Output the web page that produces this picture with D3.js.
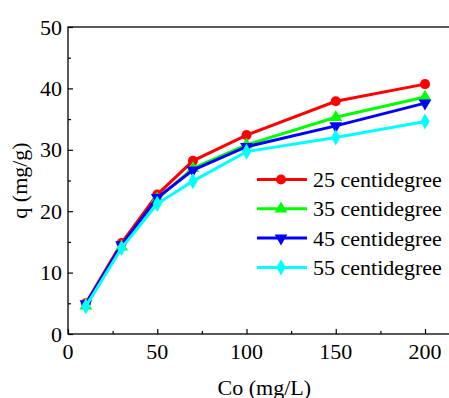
<!DOCTYPE html>
<html>
<head>
<meta charset="utf-8">
<script src="https://cdn.jsdelivr.net/npm/d3@7"></script>
<style>
  html, body { margin: 0; padding: 0; background: #fff; overflow: hidden; }
  svg text { font-family: 'Liberation Serif', 'DejaVu Serif', serif; fill: #000; }
</style>
</head>
<body>
<div id="chart"></div>
<script>
// data
const concentrations = [10, 30, 50, 70, 100, 150, 200];
const seriesNames = ['25 centidegree', '35 centidegree', '45 centidegree', '55 centidegree'];
const q25 = [5.0, 14.8, 22.7, 28.2, 32.4, 37.9, 40.7];
const q35 = [4.6, 14.2, 22.0, 27.0, 30.8, 35.3, 38.6];
const q45 = [4.9, 14.5, 22.2, 26.7, 30.5, 33.9, 37.6];
const q55 = [4.5, 14.0, 21.2, 24.9, 29.7, 32.0, 34.6];
const colors = ['#ff0000', '#00ff00', '#0000ff', '#00ffff'];
const markerShapes = ['circle', 'triangleUp', 'triangleDown', 'diamond'];
const xTicks = [0, 50, 100, 150, 200];
const yTicks = [0, 10, 20, 30, 40, 50];

const width = 449;
const height = 398;
const margins = { top: 27, left: 68 };
const plotBottom = 334;
const fontFamily = "'Liberation Serif', 'DejaVu Serif', serif";

const svg = d3.select('#chart')
  .append('svg')
  .attr('width', width)
  .attr('height', height)
  .attr('font-family', fontFamily);

const x = d3.scaleLinear().domain([0, 220]).range([margins.left, margins.left + 220 * 1.785]);
const y = d3.scaleLinear().domain([0, 50]).range([plotBottom, margins.top]);

const series = [q25, q35, q45, q55].map((values, i) => ({
  name: seriesNames[i],
  color: colors[i],
  shape: markerShapes[i],
  points: values.map((v, j) => ({ c: concentrations[j], q: v })),
}));

// frame
svg.append('rect')
  .attr('x', x(0))
  .attr('y', y(50))
  .attr('width', x(220) - x(0))
  .attr('height', y(0) - y(50))
  .attr('fill', 'none')
  .attr('stroke', '#000')
  .attr('stroke-width', 1.3);

// axes, ticks pointing inward
const xAxis = svg.append('g')
  .attr('transform', `translate(0,${plotBottom})`)
  .call(d3.axisTop(x).tickValues(xTicks).tickSize(5).tickFormat(''));
const xMinor = svg.append('g')
  .attr('transform', `translate(0,${plotBottom})`)
  .call(d3.axisTop(x).tickValues([25, 75, 125, 175]).tickSize(3).tickFormat(''));
const yAxis = svg.append('g')
  .attr('transform', `translate(${margins.left},0)`)
  .call(d3.axisRight(y).tickValues(yTicks).tickSize(5).tickFormat(''));
const yMinor = svg.append('g')
  .attr('transform', `translate(${margins.left},0)`)
  .call(d3.axisRight(y).tickValues([5, 15, 25, 35, 45]).tickSize(3).tickFormat(''));
[xAxis, xMinor, yAxis, yMinor].forEach(g => {
  g.select('.domain').remove();
  g.selectAll('line').attr('stroke', '#000').attr('stroke-width', 1.2);
});

// tick labels
svg.append('g').selectAll('text')
  .data(xTicks)
  .join('text')
  .attr('x', d => x(d))
  .attr('y', 359)
  .attr('text-anchor', 'middle')
  .attr('font-size', 22)
  .text(d => d);

svg.append('g').selectAll('text')
  .data(yTicks)
  .join('text')
  .attr('x', 62)
  .attr('y', d => y(d) + 7.5)
  .attr('text-anchor', 'end')
  .attr('font-size', 22)
  .text(d => d);

// axis titles
svg.append('text')
  .attr('x', x(110))
  .attr('y', 395)
  .attr('text-anchor', 'middle')
  .attr('font-size', 22)
  .text('Co (mg/L)');

svg.append('text')
  .attr('transform', `translate(27,${(y(0) + y(50)) / 2}) rotate(-90)`)
  .attr('text-anchor', 'middle')
  .attr('font-size', 22)
  .text('q (mg/g)');

const symbolFor = shape => {
  if (shape === 'circle') return d3.symbol(d3.symbolCircle, 80)();
  if (shape === 'triangleUp') return d3.symbol(d3.symbolTriangle, 70)();
  if (shape === 'triangleDown') return d3.symbol(d3.symbolTriangle, 70)();
  return d3.symbol(d3.symbolDiamond, 75)();
};
const rotationFor = shape => (shape === 'triangleDown' ? 180 : 0);

const line = d3.line().x(d => x(d.c)).y(d => y(d.q));

// series
series.forEach(s => {
  const g = svg.append('g');
  g.append('path')
    .datum(s.points)
    .attr('d', line)
    .attr('fill', 'none')
    .attr('stroke', s.color)
    .attr('stroke-width', 3);
  g.selectAll('path.marker')
    .data(s.points)
    .join('path')
    .attr('class', 'marker')
    .attr('d', symbolFor(s.shape))
    .attr('transform', d => `translate(${x(d.c)},${y(d.q)}) rotate(${rotationFor(s.shape)})`)
    .attr('fill', s.color);
});

// legend
const legend = svg.append('g');
series.forEach((s, i) => {
  const ly = 179.5 + i * 29.3;
  legend.append('line')
    .attr('x1', 257).attr('x2', 307)
    .attr('y1', ly).attr('y2', ly)
    .attr('stroke', s.color)
    .attr('stroke-width', 3);
  legend.append('path')
    .attr('d', symbolFor(s.shape))
    .attr('transform', `translate(281,${ly}) rotate(${rotationFor(s.shape)})`)
    .attr('fill', s.color);
  legend.append('text')
    .attr('x', 313)
    .attr('y', ly + 7.5)
    .attr('font-size', 22)
    .text(s.name);
});
</script>
</body>
</html>
